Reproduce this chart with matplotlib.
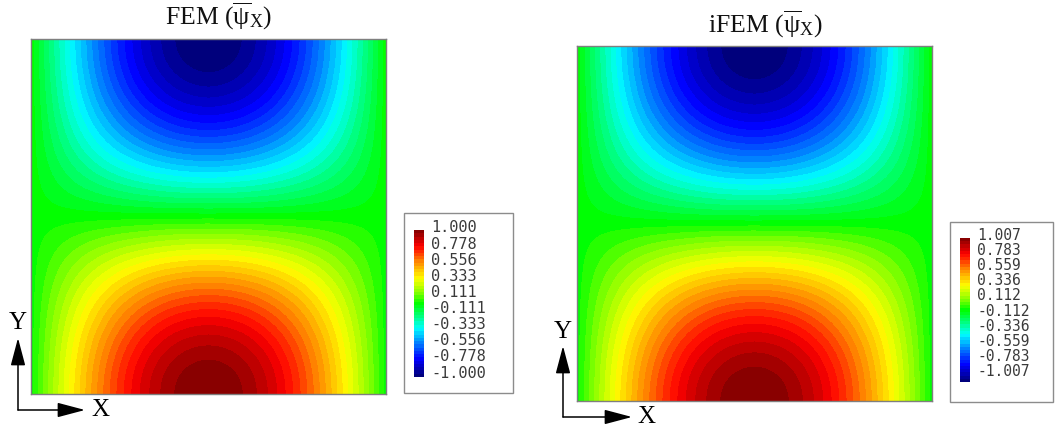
import numpy as np
import matplotlib
matplotlib.use("Agg")
import matplotlib.pyplot as plt
import matplotlib.tri as mtri
from matplotlib.colors import LinearSegmentedColormap
from matplotlib.patches import Rectangle, FancyArrowPatch

plt.rcParams["font.family"] = ["Liberation Serif", "DejaVu Serif"]
plt.rcParams["mathtext.fontset"] = "custom"
plt.rcParams["mathtext.rm"] = "Liberation Serif"
plt.rcParams["mathtext.it"] = "Liberation Serif:italic"
plt.rcParams["mathtext.bf"] = "Liberation Serif:bold"

# ---- data: nodal rotation field (normalised) ----
# variation across the plate width (left -> right)
x_profile = [0.000, 0.131, 0.259, 0.383, 0.500, 0.609, 0.707, 0.793, 0.866, 0.924,
             0.966, 0.991, 1.000, 0.991, 0.966, 0.924, 0.866, 0.793, 0.707, 0.609,
             0.500, 0.383, 0.259, 0.131, 0.000]
# variation along the plate height (bottom -> top)
y_profile = [1.000, 0.991, 0.966, 0.924, 0.866, 0.793, 0.707, 0.609, 0.500, 0.383,
             0.259, 0.131, 0.000, -0.131, -0.259, -0.383, -0.500, -0.609, -0.707,
             -0.793, -0.866, -0.924, -0.966, -0.991, -1.000]
fem_peak = 1.000
ifem_peak = 1.007
fem_ticks = ["1.000", "0.778", "0.556", "0.333", "0.111",
             "-0.111", "-0.333", "-0.556", "-0.778", "-1.000"]
ifem_ticks = ["1.007", "0.783", "0.559", "0.336", "0.112",
              "-0.112", "-0.336", "-0.559", "-0.783", "-1.007"]
titles = [r"FEM ($\overline{\mathrm{\psi}}_{\mathrm{X}}$)",
          r"iFEM ($\overline{\mathrm{\psi}}_{\mathrm{X}}$)"]

# contour spectrum
spectrum = LinearSegmentedColormap.from_list("spectrum", [
    (0.00, (0.00, 0.00, 0.45)),
    (0.12, (0.00, 0.00, 1.00)),
    (0.22, (0.00, 0.45, 1.00)),
    (0.33, (0.00, 1.00, 1.00)),
    (0.42, (0.00, 1.00, 0.45)),
    (0.50, (0.00, 1.00, 0.00)),
    (0.58, (0.55, 1.00, 0.00)),
    (0.67, (1.00, 1.00, 0.00)),
    (0.78, (1.00, 0.55, 0.00)),
    (0.89, (1.00, 0.00, 0.00)),
    (1.00, (0.50, 0.00, 0.00)),
])

W, H = 1055, 430
fig = plt.figure(figsize=(W / 100, H / 100), dpi=100)

# overlay in pixel coordinates for boxes, triads and labels
ov = fig.add_axes([0, 0, 1, 1])
ov.set_xlim(0, W)
ov.set_ylim(H, 0)
ov.axis("off")


def px_axes(x0, y0, x1, y1):
    return fig.add_axes([x0 / W, 1 - y1 / H, (x1 - x0) / W, (y1 - y0) / H])


xs = np.linspace(0, 1, len(x_profile))
ys = np.linspace(0, 1, len(y_profile))
XX, YY = np.meshgrid(xs, ys)
tri = mtri.Triangulation(XX.ravel(), YY.ravel())
refiner = mtri.UniformTriRefiner(tri)

panels = [
    dict(peak=fem_peak, ticks=fem_ticks, title=titles[0],
         ax=(31, 39, 386, 394), title_xy=(219, 25),
         box=(404, 213, 513, 393), bar=(414, 230, 424, 377),
         lab_x=431, lab_y=(228, 373), lab_fs=11,
         origin=(18, 410), ytip=338, xtip=85, ylab=(18, 323), xlab=(100, 410)),
    dict(peak=ifem_peak, ticks=ifem_ticks, title=titles[1],
         ax=(577, 46, 932, 401), title_xy=(765, 33),
         box=(950, 222, 1053, 402), bar=(960, 238, 970, 382),
         lab_x=977, lab_y=(235, 372), lab_fs=10.5,
         origin=(563, 417), ytip=346, xtip=632, ylab=(563, 332), xlab=(646, 417)),
]

for p in panels:
    field = np.outer(y_profile, x_profile) * p["peak"]
    tri_f, z_f = refiner.refine_field(field.ravel(), subdiv=3)
    z_f = np.clip(z_f, -p["peak"], p["peak"])
    levels = np.linspace(-p["peak"], p["peak"], 46)

    ax = px_axes(*p["ax"])
    cs = ax.tricontourf(tri_f, z_f, levels=levels, cmap=spectrum,
                        vmin=-p["peak"], vmax=p["peak"])
    ax.set_xlim(0, 1)
    ax.set_ylim(0, 1)
    ax.set_xticks([])
    ax.set_yticks([])
    for s in ax.spines.values():
        s.set_color("#7f7f7f")
        s.set_linewidth(1.0)

    ov.text(p["title_xy"][0], p["title_xy"][1], p["title"], ha="center",
            va="baseline", fontsize=18.5, color="#111111")

    # legend box
    bx0, by0, bx1, by1 = p["box"]
    ov.add_patch(Rectangle((bx0, by0), bx1 - bx0, by1 - by0, facecolor="white",
                           edgecolor="#8c8c8c", linewidth=1.0))
    cax = px_axes(*p["bar"])
    cb = fig.colorbar(cs, cax=cax)
    cb.outline.set_visible(False)
    cax.set_yticks([])
    ya, yb = p["lab_y"]
    for i, t in enumerate(p["ticks"]):
        yy = ya + (yb - ya) * i / (len(p["ticks"]) - 1)
        ov.text(p["lab_x"], yy, t, ha="left", va="center", fontsize=p["lab_fs"],
                family="DejaVu Sans Mono", color="#3a3a3a")

    # global axis triad
    ox, oy = p["origin"]
    for tip in [(ox, p["ytip"]), (p["xtip"], oy)]:
        ov.add_patch(FancyArrowPatch((ox, oy), tip,
                                     arrowstyle="-|>,head_length=1.7,head_width=0.45",
                                     mutation_scale=10, color="black",
                                     linewidth=1.1, shrinkA=0, shrinkB=0))
    ov.text(*p["ylab"], "Y", ha="center", va="center", fontsize=18)
    ov.text(*p["xlab"], "X", ha="center", va="center", fontsize=18)

fig.savefig("out.png", dpi=100)
